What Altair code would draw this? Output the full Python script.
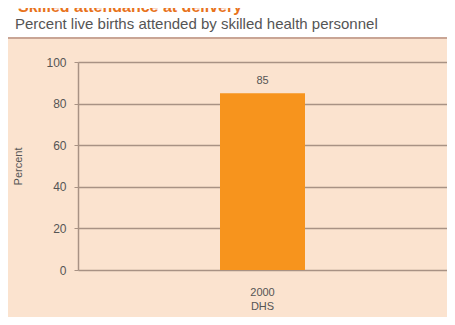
import altair as alt
import pandas as pd

categories = ["2000 DHS"]
values = [85]
title_text = "Skilled attendance at delivery"
subtitle_text = "Percent live births attended by skilled health personnel"
y_ticks = [0, 20, 40, 60, 80, 100]

df = pd.DataFrame({"survey": categories, "value": values})

base = alt.Chart(df)

bar = base.mark_bar(color="#f7941d", size=85).encode(
    x=alt.X("survey:N", title=None,
            axis=alt.Axis(labelAngle=0, labelExpr="split(datum.label, ' ')",
                          labelFontSize=11, labelColor="#555555", labelPadding=16,
                          ticks=False, domain=False, labelLineHeight=14)),
    y=alt.Y("value:Q", scale=alt.Scale(domain=[0, 100]),
            axis=alt.Axis(values=y_ticks, title="Percent", titleFontSize=11,
                          titleFontWeight="normal", titleColor="#555555",
                          titleX=-60, titleY=104, titleAngle=-90,
                          titleAlign="center", titleBaseline="middle",
                          labelFontSize=12, labelColor="#555555", labelPadding=8,
                          tickSize=4, tickColor="#a89284", domainColor="#a89284",
                          domainWidth=1.5, gridColor="#a89284", gridWidth=1.5)),
)

label = base.mark_text(dy=-12, fontSize=11, color="#555555").encode(
    x="survey:N", y="value:Q", text="value:Q"
)

box = base.mark_rect(color="white").encode(
    x=alt.value(-70), x2=alt.value(380), y=alt.value(-54), y2=alt.value(-25)
)
rule = base.mark_rule(color="#c9a595", strokeWidth=2).encode(
    x=alt.value(-70), x2=alt.value(380), y=alt.value(-24)
)
title = base.mark_text(text=title_text, color="#e8731c", fontSize=16,
                       fontWeight="bold", align="left", baseline="alphabetic").encode(
    x=alt.value(-60), y=alt.value(-50)
)
subtitle = base.mark_text(text=subtitle_text, color="#555555", fontSize=15,
                          align="left", baseline="middle").encode(
    x=alt.value(-63), y=alt.value(-38)
)

chart = alt.layer(box, rule, title, subtitle, bar, label).properties(
    width=369, height=208,
    autosize=alt.AutoSizeParams(type="none"),
    padding={"left": 70, "top": 54, "right": 0, "bottom": 47},
    background="#fbe3cf",
).configure_view(stroke=None).configure(font="Liberation Sans")

chart.save("out.html", embed_options={"renderer": "svg", "actions": False})
